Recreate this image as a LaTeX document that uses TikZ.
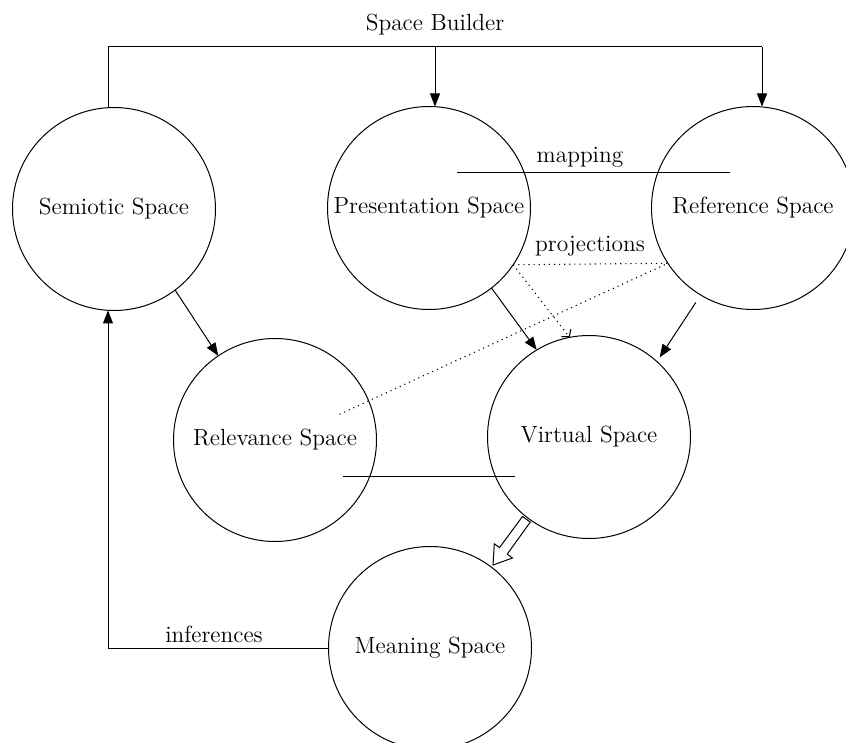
\documentclass[tikz,border=0pt]{standalone}
\usetikzlibrary{arrows.meta}
\begin{document}
\begin{tikzpicture}[x=0.5pt,y=-0.5pt,
  space/.style={circle, draw, line width=0.5pt, minimum size=101.5pt, inner sep=0pt, outer sep=0pt, font=\fontsize{11.7}{13.5}\selectfont},
  lbl/.style={font=\fontsize{11.7}{13.5}\selectfont, inner sep=0pt},
  conn/.style={line width=0.5pt},
  arr/.style={conn, -{Triangle[length=6.5pt,width=5pt]}},
  proj/.style={line width=0.55pt, dotted},
  projarr/.style={proj, -{Straight Barb[length=2.5pt,width=6pt]}},
]
\useasboundingbox (0,0) rectangle (846,743);
\clip (0,0) rectangle (846,743);

% circles
\node[space] (sem)  at (114,209) {Semiotic Space};
\node[space] (pres) at (429,208) {Presentation Space};
\node[space] (ref)  at (753,208) {Reference Space};
\node[space] (rel)  at (275,440) {Relevance Space};
\node[space] (virt) at (589,437) {Virtual Space};
\node[space] (mean) at (430,648) {Meaning Space};

% labels
\node[lbl] (sbtxt)  at (435,25)  {Space Builder};
\node[lbl] (maptxt) at (580,157) {mapping};
\node[lbl] (projtxt) at (590,246) {projections};
\node[lbl] (inftxt) at (214,634) {inferences};

% space builder
\coordinate (sbL) at (108,47);
\coordinate (sbM) at (435,47);
\coordinate (sbR) at (762,47);
\draw[conn] (sem.north -| sbL) -- (sbL) -- (sbR);
\draw[arr] (sbM) -- (pres.north -| sbM);
\draw[arr] (sbR) -- (ref.north -| sbR);

% mapping line
\coordinate (mapL) at (457,173);
\coordinate (mapR) at (730,173);
\draw[conn] (mapL) -- (mapR);

% relevance-virtual line
\coordinate (rvL) at (343,476);
\coordinate (rvR) at (515,476);
\draw[conn] (rvL) -- (rvR);

% solid arrows
\draw[arr] (sem.-53) -- (rel.124);
\draw[arr] (pres.-52) -- (virt.121);
\draw[arr, shorten <=4.5pt, shorten >=2.5pt] (ref.-121) -- (virt.48);

% projections
\coordinate (projEnd) at (338,415);
\draw[proj] (pres.-34) -- (ref.-147) -- (projEnd);
\draw[projarr] (pres.-34) -- (virt.101);

% inferences
\draw[arr] (mean.west) -| (sem.south -| sbL);

% hollow arrow virtual -> meaning
\draw[conn, fill=white] (522.5,516.5) -- (530.3,522.1) -- (507.2,554.2) -- (512.5,558.0) -- (493,565) -- (494.3,543.8) -- (499.5,547.6) -- cycle;
\end{tikzpicture}
\end{document}
